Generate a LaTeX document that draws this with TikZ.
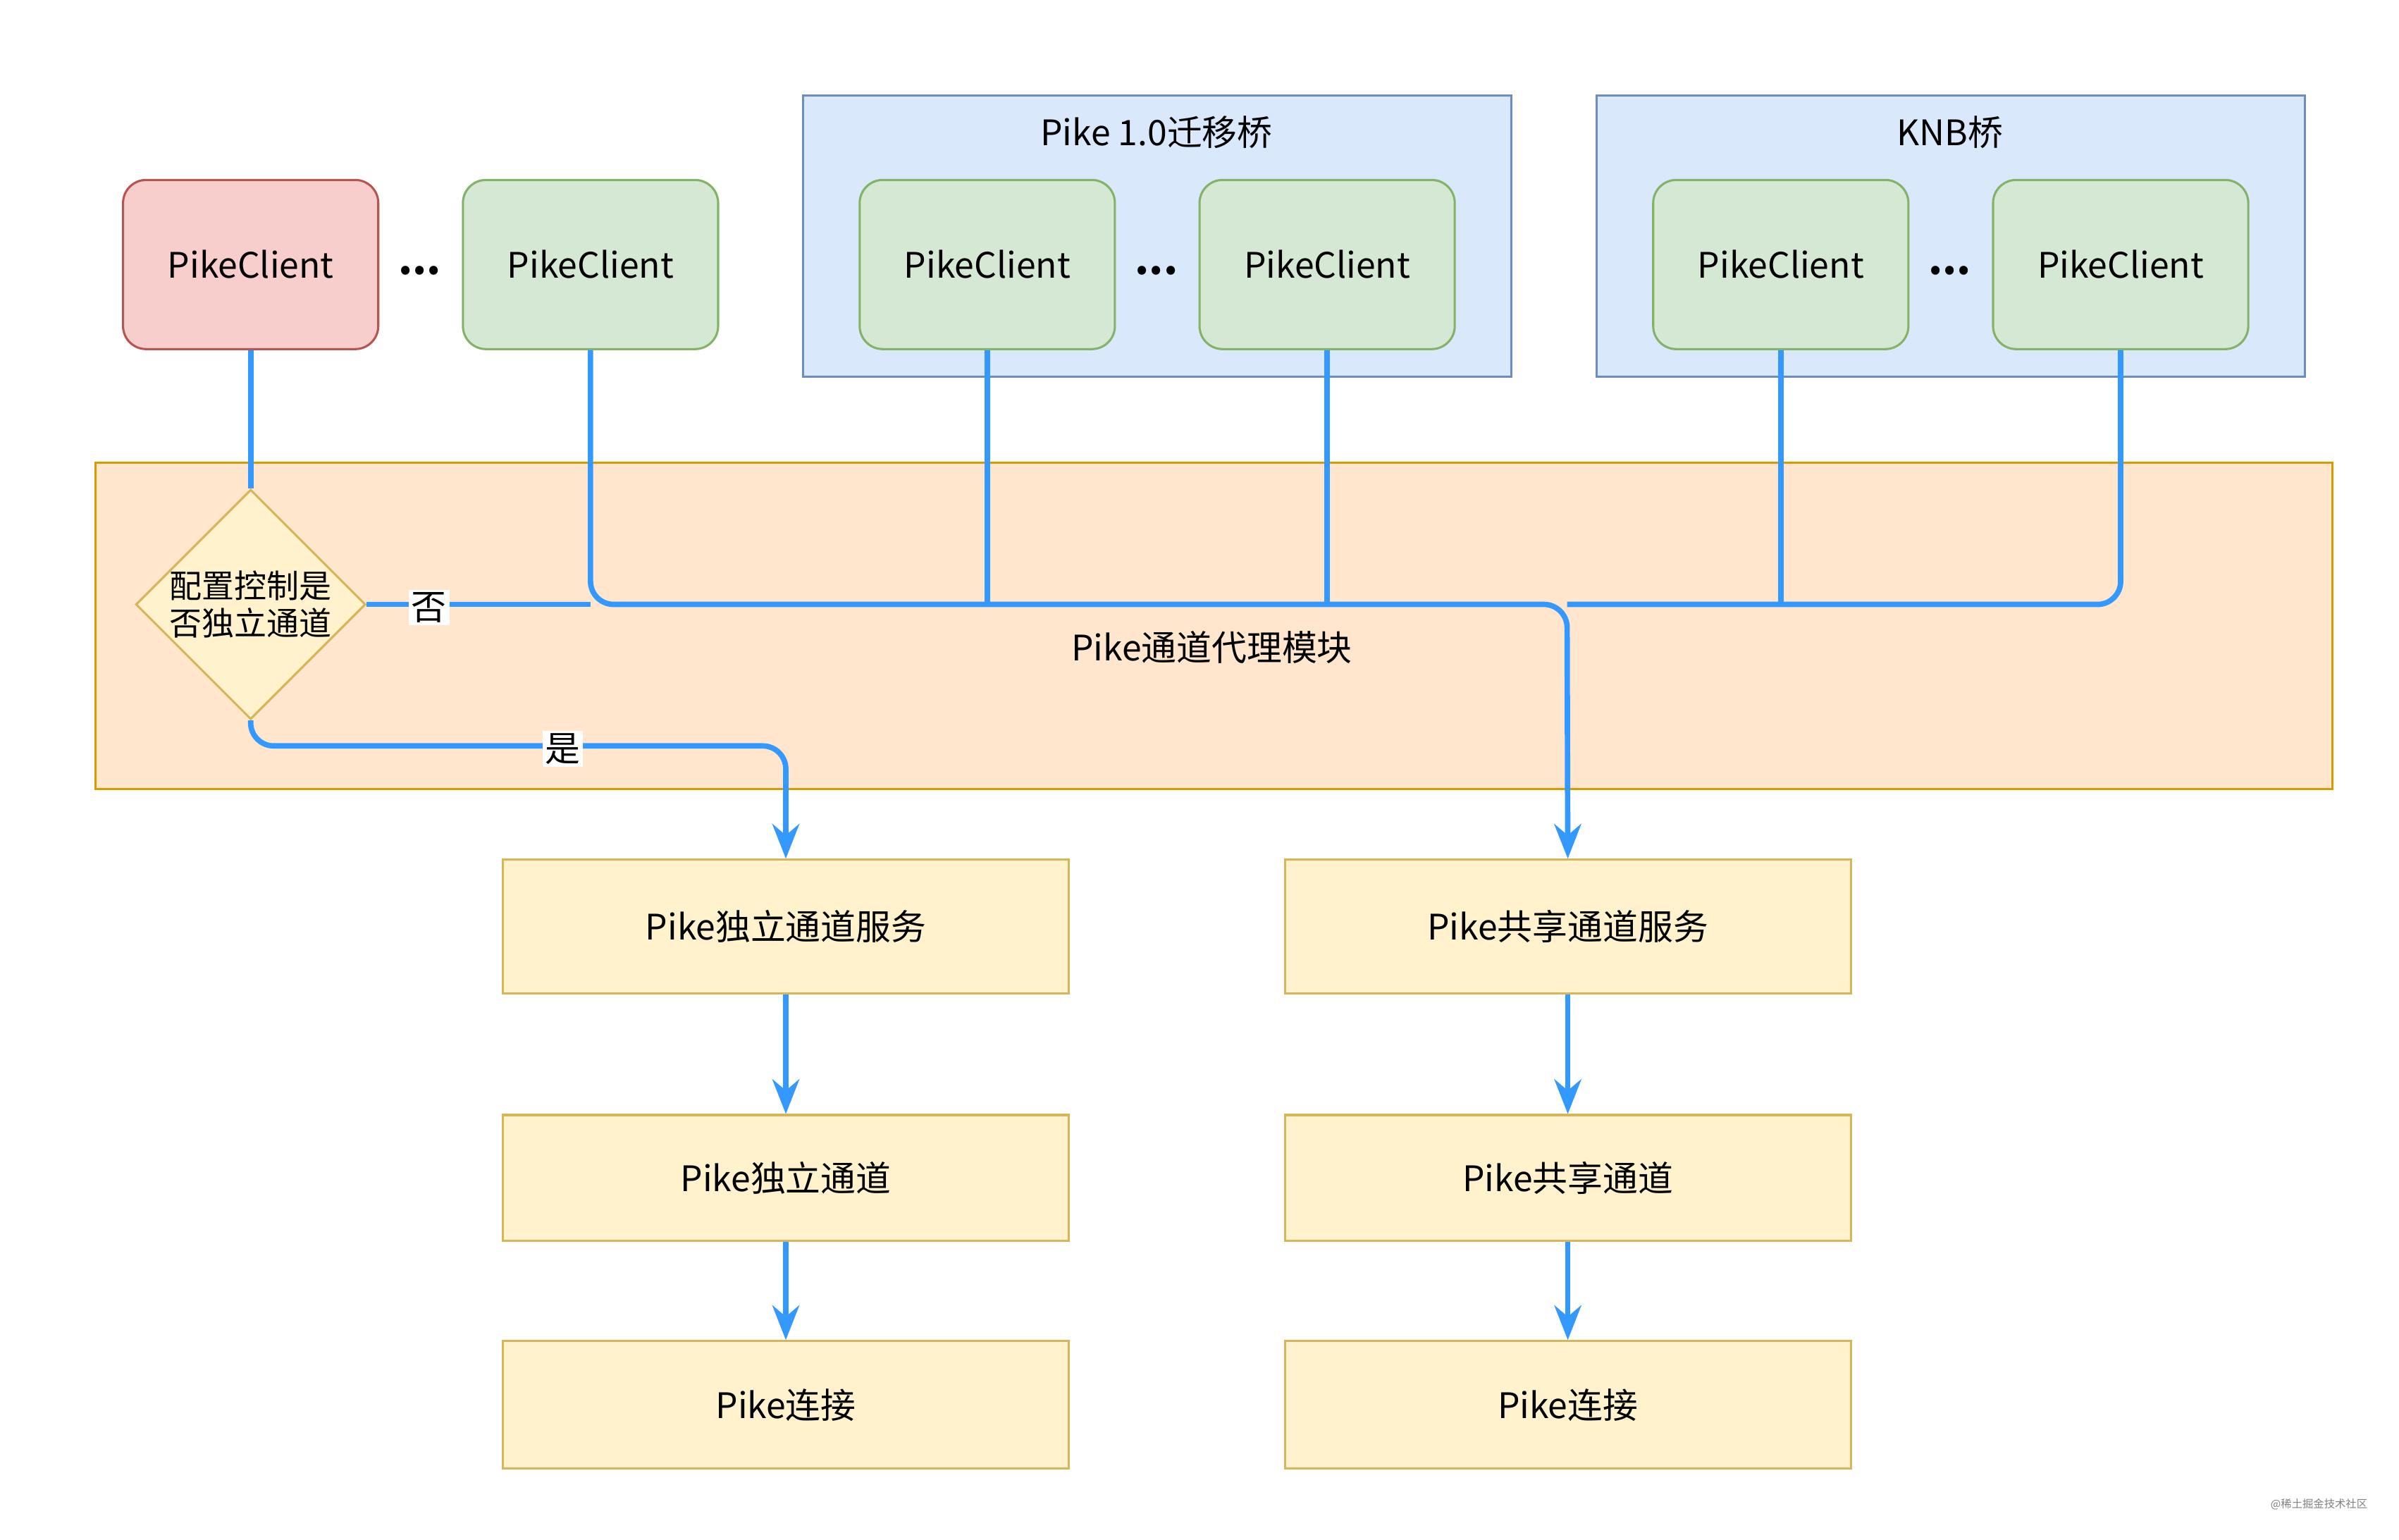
\documentclass[tikz,border=0pt]{standalone}
\usepackage{fontspec}
\setmainfont{Noto Sans CJK SC}
\usetikzlibrary{shapes.geometric,arrows.meta}
\definecolor{ln}{HTML}{3399FF}
\begin{document}
\begin{tikzpicture}[x=0.02cm,y=-0.02cm,
 client/.style={rounded corners=0.3cm,minimum width=3.32cm,minimum height=2.2cm,line width=0.8pt,font=\fontsize{13}{15}\selectfont},
 gc/.style={client,draw=green!40!black!60!white,fill=green!10,draw=gs,fill=gf},
 rc/.style={client,draw=rs,fill=rf},
 grp/.style={draw=bs,fill=bf,line width=0.8pt,minimum width=9.22cm,minimum height=3.66cm},
 yb/.style={draw=ys,fill=yf,line width=0.8pt,minimum width=7.36cm,font=\fontsize{13}{15}\selectfont},
 cn/.style={draw=ln,line width=2pt,rounded corners=0.3cm},
 ar/.style={cn,-{Stealth[length=0.45cm,width=0.35cm]}},
 lab/.style={fill=white,inner sep=1pt,font=\fontsize{13}{15}\selectfont}]
\definecolor{gs}{HTML}{82B366}\definecolor{gf}{HTML}{D5E8D4}
\definecolor{rs}{HTML}{B85450}\definecolor{rf}{HTML}{F8CECC}
\definecolor{bs}{HTML}{6C8EBF}\definecolor{bf}{HTML}{DAE8FC}
\definecolor{ys}{HTML}{D6B656}\definecolor{yf}{HTML}{FFF2CC}
\definecolor{os}{HTML}{D79B00}\definecolor{of}{HTML}{FFE6CC}
\useasboundingbox (0,0) rectangle (1560,1001);
\node[grp] (g1) at (752.5,153.5) {};
\node[grp] (g2) at (1268.5,153.5) {};
\node[font=\fontsize{13}{15}\selectfont] (t1) at (752,86) {Pike 1.0迁移桥};
\node[font=\fontsize{13}{15}\selectfont] (t2) at (1268,86) {KNB桥};
\node[draw=os,fill=of,line width=0.8pt,minimum width=29.1cm,minimum height=4.24cm] (m) at (789.5,407) {};
\node[font=\fontsize{13}{15}\selectfont] (ml) at (788,421) {Pike通道代理模块};
\node[rc] (c1) at (163,172) {PikeClient};
\node[gc] (c2) at (384,172) {PikeClient};
\node[gc] (c3) at (642,172) {PikeClient};
\node[gc] (c4) at (863,172) {PikeClient};
\node[gc] (c5) at (1158,172) {PikeClient};
\node[gc] (c6) at (1379,172) {PikeClient};
\foreach \x/\n in {273/e1,752/e2,1268/e3} \node[font=\bfseries\fontsize{15}{15}\selectfont] (\n) at (\x,176) {...};
\node[diamond,aspect=1,draw=ys,fill=yf,line width=0.8pt,minimum width=2.92cm,minimum height=2.92cm,inner sep=0,align=center,font=\fontsize{12}{14}\selectfont] (d) at (163,393) {配置控制是\\否独立通道};
\node[yb,minimum height=1.74cm] (s1) at (511,602.5) {Pike独立通道服务};
\node[yb,minimum height=1.64cm] (s2) at (511,766) {Pike独立通道};
\node[yb,minimum height=1.66cm] (s3) at (511,913.5) {Pike连接};
\node[yb,minimum height=1.74cm] (r1) at (1019.5,602.5) {Pike共享通道服务};
\node[yb,minimum height=1.64cm] (r2) at (1019.5,766) {Pike共享通道};
\node[yb,minimum height=1.66cm] (r3) at (1019.5,913.5) {Pike连接};
\coordinate (j) at (1019,393);
\draw[cn] (c1.south) -- (d.north);
\draw[cn] (d.east) -- (c2.south |- j);
\draw[ar] (c2.south) |- (j) -- (r1.north);
\foreach \c in {c3,c4,c5} \draw[cn] (\c.south) -- (\c.south |- j);
\draw[cn] (c6.south) |- (j);
\draw[ar] (d.south) |- (511,485) -- (s1.north);
\node[lab] (no) at (279,395) {否};
\node[lab] (yes) at (366,487) {是};
\draw[ar] (s1) -- (s2); \draw[ar] (s2) -- (s3);
\draw[ar] (r1) -- (r2); \draw[ar] (r2) -- (r3);
\node[text=gray,font=\fontsize{4}{5}\selectfont] (wm) at (1508,978) {@稀土掘金技术社区};
\end{tikzpicture}
\end{document}
